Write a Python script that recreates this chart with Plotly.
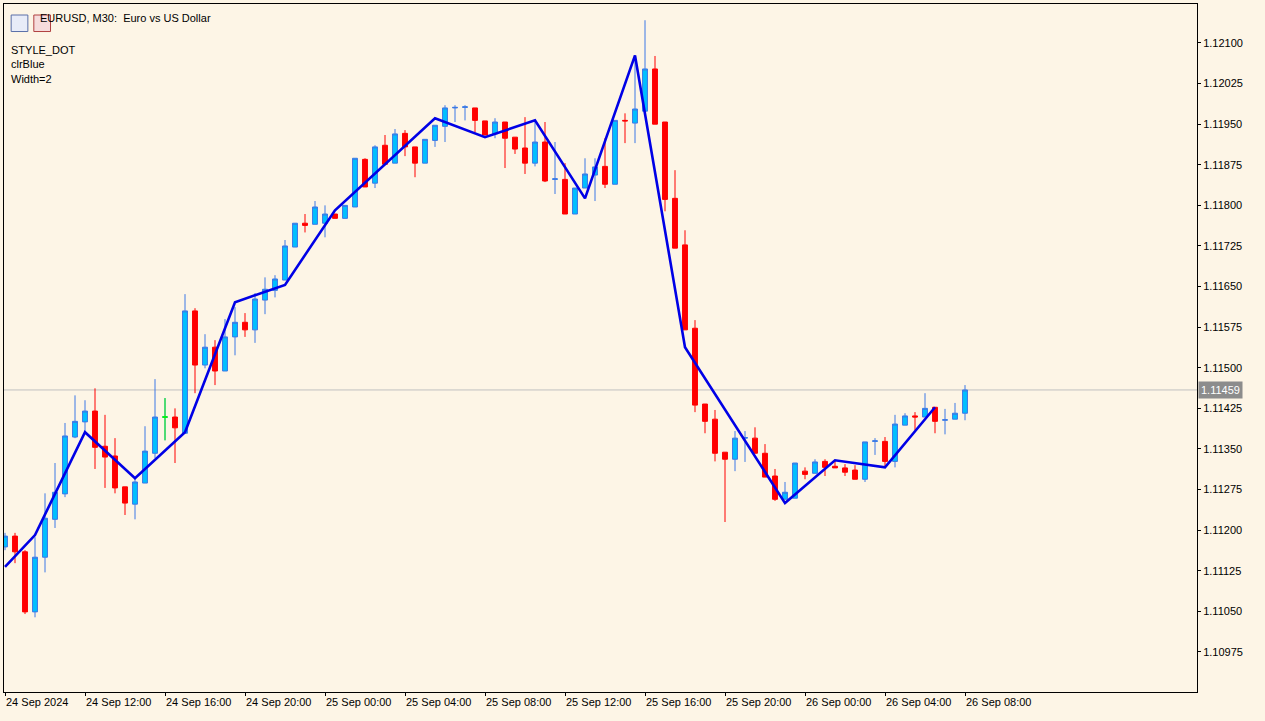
import plotly.graph_objects as go

# EURUSD M30, 24 Sep 08:00 .. 26 Sep 08:00 (bar index 0..96)
opens = [1.11169, 1.11189, 1.11160, 1.11049, 1.11150, 1.11220, 1.11267, 1.11372, 1.11400, 1.11420,
         1.11355, 1.11337, 1.11280, 1.11248, 1.11287, 1.11342, 1.11409, 1.11409, 1.11379, 1.11605,
         1.11505, 1.11538, 1.11494, 1.11557, 1.11584, 1.11570, 1.11625, 1.11643, 1.11662, 1.11723,
         1.11767, 1.11765, 1.11767, 1.11784, 1.11776, 1.11797, 1.11885, 1.11841, 1.11911, 1.11878,
         1.11933, 1.11908, 1.11878, 1.11920, 1.11946, 1.11980, 1.11981, 1.11980, 1.11956, 1.11932,
         1.11954, 1.11926, 1.11906, 1.11878, 1.11917, 1.11848, 1.11848, 1.11784, 1.11832, 1.11856,
         1.11872, 1.11839, 1.11957, 1.11952, 1.11974, 1.12052, 1.11954, 1.11813, 1.11727, 1.11573,
         1.11433, 1.11405, 1.11344, 1.11331, 1.11370, 1.11370, 1.11342, 1.11300, 1.11257, 1.11259,
         1.11309, 1.11305, 1.11327, 1.11318, 1.11315, 1.11311, 1.11294, 1.11364, 1.11364, 1.11327,
         1.11394, 1.11411, 1.11409, 1.11427, 1.11403, 1.11405, 1.11416]
highs = [1.11195, 1.11195, 1.11163, 1.11187, 1.11268, 1.11324, 1.11398, 1.11449, 1.11440, 1.11462,
         1.11413, 1.11370, 1.11280, 1.11298, 1.11392, 1.11479, 1.11444, 1.11425, 1.11636, 1.11610,
         1.11562, 1.11551, 1.11590, 1.11612, 1.11601, 1.11638, 1.11667, 1.11671, 1.11736, 1.11767,
         1.11784, 1.11808, 1.11800, 1.11784, 1.11800, 1.11887, 1.11887, 1.11911, 1.11930, 1.11941,
         1.11939, 1.11908, 1.11922, 1.11948, 1.11985, 1.11985, 1.11985, 1.11980, 1.11956, 1.11961,
         1.11954, 1.11926, 1.11963, 1.11957, 1.11954, 1.11917, 1.11878, 1.11832, 1.11887, 1.11887,
         1.11924, 1.11957, 1.11970, 1.12077, 1.12142, 1.12076, 1.11954, 1.11865, 1.11754, 1.11588,
         1.11433, 1.11422, 1.11344, 1.11383, 1.11383, 1.11390, 1.11359, 1.11313, 1.11289, 1.11324,
         1.11316, 1.11331, 1.11331, 1.11329, 1.11322, 1.11320, 1.11363, 1.11370, 1.11372, 1.11413,
         1.11416, 1.11418, 1.11453, 1.11427, 1.11424, 1.11435, 1.11468]
lows = [1.11163, 1.11139, 1.11045, 1.11039, 1.11122, 1.11204, 1.11261, 1.11370, 1.11381, 1.11313,
        1.11278, 1.11268, 1.11228, 1.11220, 1.11287, 1.11333, 1.11366, 1.11324, 1.11379, 1.11453,
        1.11499, 1.11468, 1.11494, 1.11523, 1.11557, 1.11546, 1.11599, 1.11630, 1.11662, 1.11723,
        1.11750, 1.11765, 1.11741, 1.11776, 1.11776, 1.11797, 1.11834, 1.11832, 1.11876, 1.11878,
        1.11891, 1.11852, 1.11878, 1.11908, 1.11917, 1.11954, 1.11957, 1.11935, 1.11930, 1.11924,
        1.11869, 1.11895, 1.11858, 1.11872, 1.11843, 1.11821, 1.11784, 1.11784, 1.11832, 1.11808,
        1.11832, 1.11839, 1.11915, 1.11915, 1.11974, 1.11950, 1.11789, 1.11721, 1.11570, 1.11418,
        1.11379, 1.11327, 1.11215, 1.11309, 1.11326, 1.11342, 1.11298, 1.11254, 1.11257, 1.11259,
        1.11294, 1.11305, 1.11300, 1.11315, 1.11300, 1.11294, 1.11289, 1.11339, 1.11318, 1.11316,
        1.11394, 1.11385, 1.11409, 1.11379, 1.11377, 1.11405, 1.11403]
closes = [1.11189, 1.11160, 1.11049, 1.11150, 1.11222, 1.11270, 1.11374, 1.11401, 1.11420, 1.11353,
          1.11335, 1.11278, 1.11250, 1.11289, 1.11346, 1.11409, 1.11409, 1.11389, 1.11605, 1.11505,
          1.11538, 1.11494, 1.11557, 1.11584, 1.11570, 1.11627, 1.11645, 1.11664, 1.11725, 1.11767,
          1.11763, 1.11797, 1.11784, 1.11776, 1.11800, 1.11887, 1.11834, 1.11908, 1.11876, 1.11932,
          1.11908, 1.11878, 1.11922, 1.11948, 1.11980, 1.11981, 1.11982, 1.11957, 1.11930, 1.11954,
          1.11924, 1.11904, 1.11878, 1.11917, 1.11845, 1.11849, 1.11784, 1.11832, 1.11858, 1.11871,
          1.11839, 1.11957, 1.11956, 1.11978, 1.12052, 1.11950, 1.11811, 1.11721, 1.11570, 1.11431,
          1.11401, 1.11342, 1.11331, 1.11370, 1.11371, 1.11342, 1.11298, 1.11257, 1.11270, 1.11324,
          1.11303, 1.11326, 1.11316, 1.11315, 1.11307, 1.11294, 1.11363, 1.11365, 1.11327, 1.11396,
          1.11411, 1.11409, 1.11425, 1.11401, 1.11404, 1.11416, 1.11459]
green_bar = 16  # unchanged bar drawn in lime

zz_idx = [0, 3, 8, 13, 18, 23, 28, 33, 43, 48, 53, 58, 63, 68, 78, 83, 88, 93]
zz_price = [1.11132, 1.11191, 1.11381, 1.11296, 1.11381, 1.11621, 1.11653, 1.11791, 1.11961,
            1.11926, 1.11957, 1.11813, 1.12077, 1.11538, 1.11250, 1.11329, 1.11316, 1.11427]

time_idx = [0, 8, 16, 24, 32, 40, 48, 56, 64, 72, 80, 88, 96]
time_labels = ["24 Sep 2024", "24 Sep 12:00", "24 Sep 16:00", "24 Sep 20:00", "25 Sep 00:00",
               "25 Sep 04:00", "25 Sep 08:00", "25 Sep 12:00", "25 Sep 16:00", "25 Sep 20:00",
               "26 Sep 00:00", "26 Sep 04:00", "26 Sep 08:00"]
price_ticks = [1.12100, 1.12025, 1.11950, 1.11875, 1.11800, 1.11725, 1.11650, 1.11575, 1.11500,
               1.11425, 1.11350, 1.11275, 1.11200, 1.11125, 1.11050, 1.10975]
last_price = closes[-1]

idx = list(range(len(opens)))
fig = go.Figure()
fig.add_trace(go.Candlestick(
    x=idx, open=opens, high=highs, low=lows, close=closes,
    increasing=dict(fillcolor="#00BFFF", line=dict(color="#3C78E6", width=1)),
    decreasing=dict(fillcolor="#FF0000", line=dict(color="#FF0000", width=1)),
    whiskerwidth=0, hoverinfo="skip"))
g = green_bar
fig.add_trace(go.Candlestick(
    x=[g], open=[opens[g]], high=[highs[g]], low=[lows[g]], close=[closes[g]],
    increasing=dict(fillcolor="#00FF00", line=dict(color="#00FF00", width=1)),
    decreasing=dict(fillcolor="#00FF00", line=dict(color="#00FF00", width=1)),
    hoverinfo="skip"))
fig.add_trace(go.Scatter(x=zz_idx, y=zz_price, mode="lines",
                         line=dict(color="#0000E6", width=2.6), hoverinfo="skip"))

fig.add_hline(y=last_price, line=dict(color="#C0C0C0", width=1), layer="below")

font = "Liberation Sans, Arial, sans-serif"
for i, t in zip(time_idx, time_labels):
    fig.add_annotation(x=i, y=0, xref="x", yref="paper", yanchor="top", xanchor="left",
                       xshift=-1, yshift=-2, text=t, showarrow=False,
                       font=dict(family=font, size=11, color="#000"))
fig.add_annotation(x=1.0, y=last_price, xref="paper", yref="y", xanchor="left", xshift=1,
                   text="1.11459", showarrow=False, bgcolor="#8C8C8C", borderpad=2,
                   font=dict(family=font, size=11, color="#FFFFFF"))
fig.add_annotation(x=0, y=1, xref="paper", yref="paper", xanchor="left", yanchor="top",
                   xshift=34, yshift=-6, text="EURUSD, M30:  Euro vs US Dollar", showarrow=False,
                   font=dict(family=font, size=11, color="#000"))
fig.add_annotation(x=0, y=1, xref="paper", yref="paper", xanchor="left", yanchor="top",
                   xshift=5, yshift=-38, text="STYLE_DOT<br>clrBlue<br>Width=2", align="left",
                   showarrow=False, font=dict(family=font, size=11, color="#000"))
# toolbar-like icons
fig.add_shape(type="rect", xref="paper", yref="paper", x0=0.006, x1=0.020, y0=0.960, y1=0.984,
              line=dict(color="#5A6FA8", width=1), fillcolor="#E8ECF8")
fig.add_shape(type="rect", xref="paper", yref="paper", x0=0.025, x1=0.039, y0=0.960, y1=0.984,
              line=dict(color="#B04040", width=1), fillcolor="#F6DCDC")

fig.update_layout(
    width=1265, height=721, margin=dict(l=4, r=68, t=4, b=29),
    paper_bgcolor="#FDF5E6", plot_bgcolor="#FDF5E6", showlegend=False,
    xaxis=dict(range=[-0.1, 119.2], showgrid=False, zeroline=False, showticklabels=False,
               rangeslider=dict(visible=False), showline=True, mirror=True, linecolor="#000",
               ticks="outside", tickvals=time_idx, ticklen=3, tickcolor="#000"),
    yaxis=dict(range=[1.10901, 1.12172], side="right", showgrid=False, zeroline=False,
               tickvals=price_ticks, ticktext=[f"{p:.5f}" for p in price_ticks],
               showline=True, mirror=True, linecolor="#000", ticks="outside", ticklen=3,
               tickcolor="#000", tickfont=dict(family=font, size=11, color="#000")),
)
fig.write_html("out.html", config={"displayModeBar": False},
               post_script="document.body.style.margin='0';"
               "document.body.style.background='#FDF5E6';")
